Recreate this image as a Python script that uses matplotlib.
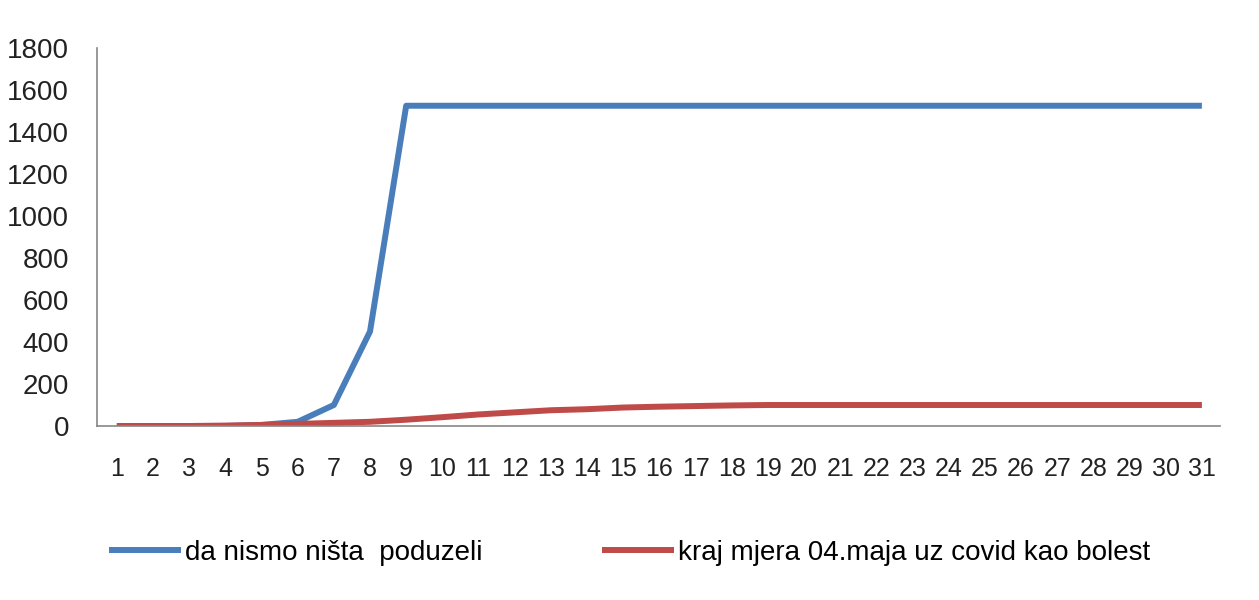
import matplotlib
matplotlib.use("Agg")
import matplotlib.pyplot as plt

days = list(range(1, 32))
no_action = [0, 0, 0, 0, 5, 20, 100, 450] + [1525] * 23
end_measures = [0, 0, 0, 2, 5, 10, 15, 20, 30, 42, 55, 65, 75, 80, 88, 92, 95, 98, 100, 100] + [100] * 11
yticks = [0, 200, 400, 600, 800, 1000, 1200, 1400, 1600, 1800]
label_a = "da nismo ništa  poduzeli"
label_b = "kraj mjera 04.maja uz covid kao bolest"

plt.rcParams['font.family'] = ['Liberation Sans', 'DejaVu Sans']

fig = plt.figure(figsize=(12.59, 6.0), dpi=100)
ax = fig.add_axes([0.077, 0.29, 0.892, 0.63])

ax.plot(days, no_action, color='#4A7EBB', lw=4.3, label=label_a, solid_capstyle='butt')
ax.plot(days, end_measures, color='#BE4B48', lw=4.3, label=label_b, solid_capstyle='butt')

ax.set_xlim(0.45, 31.5)
ax.set_ylim(0, 1800)
ax.set_yticks(yticks)
ax.set_xticks(days)
ax.set_xticklabels([str(d) for d in days])
ax.tick_params(axis='both', length=0, colors='#222222')
ax.tick_params(axis='x', pad=22, labelsize=18)
ax.tick_params(axis='y', pad=20, labelsize=20)
for s in ['top', 'right']:
    ax.spines[s].set_visible(False)
for s in ['left', 'bottom']:
    ax.spines[s].set_color('#868686')
    ax.spines[s].set_linewidth(1.2)

fig.legend(loc='center', bbox_to_anchor=(0.5, 0.078), ncol=2, frameon=False,
           fontsize=20, handlelength=2.6, handletextpad=0.15, columnspacing=4.3)

fig.savefig('out.png', dpi=100, facecolor='white')
